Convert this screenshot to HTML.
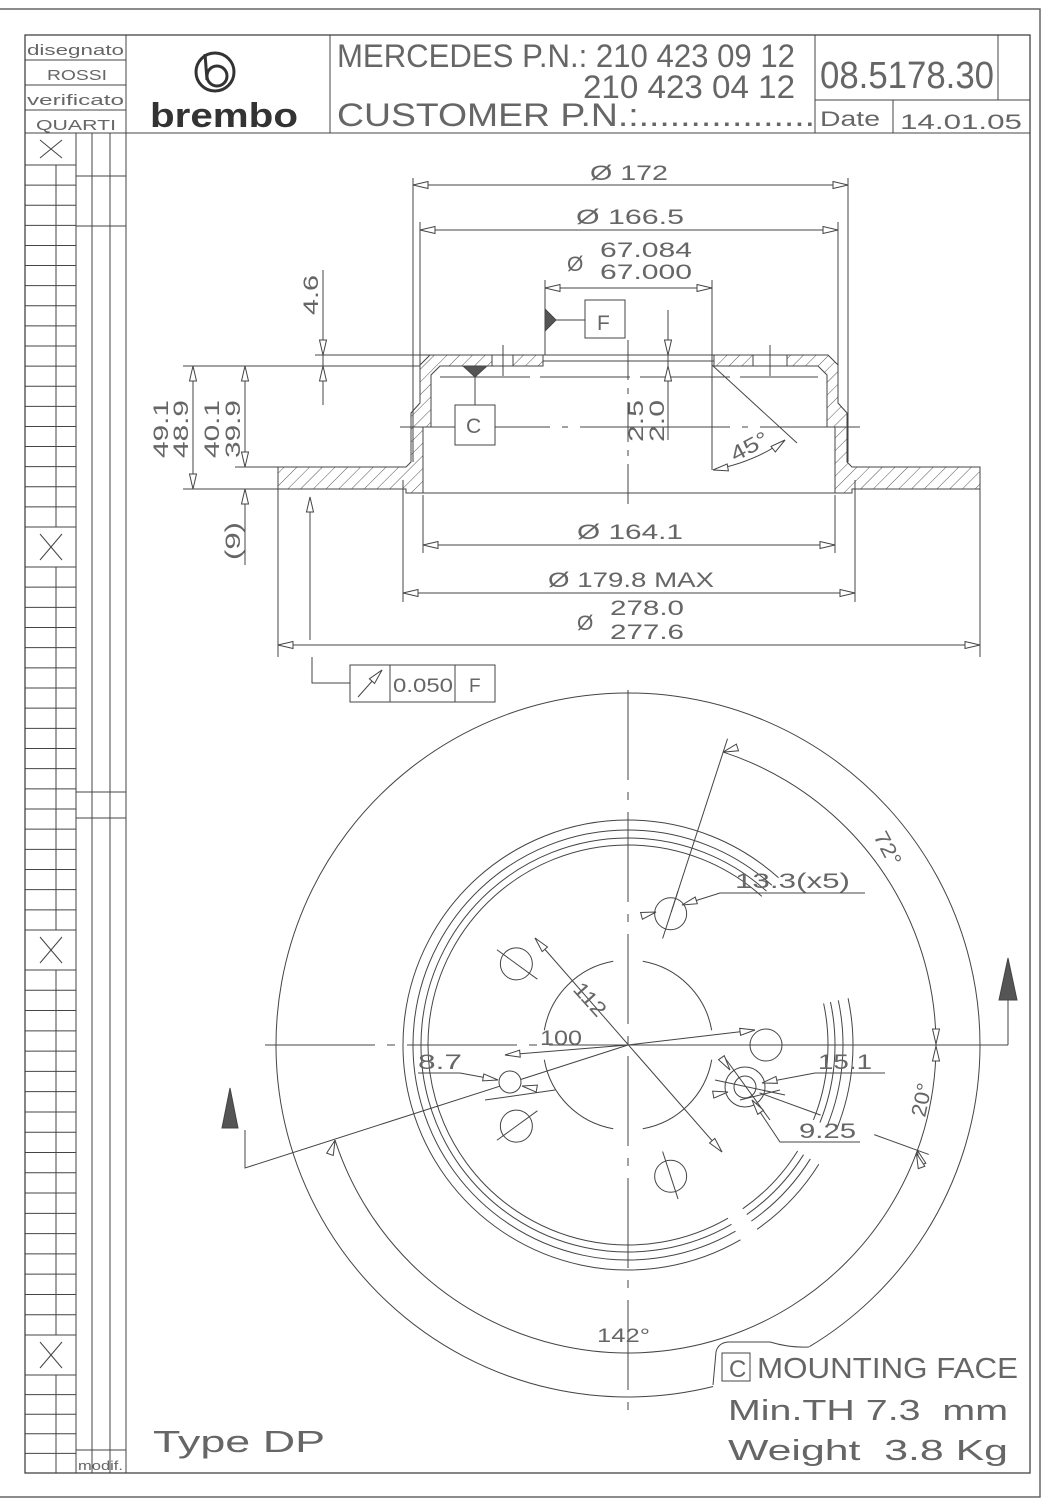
<!DOCTYPE html>
<html><head><meta charset="utf-8"><style>
html,body{margin:0;padding:0;background:#fff}
svg{display:block}
text{font-family:"Liberation Sans",sans-serif;fill:#666}
</style></head><body>
<svg id="s" width="1062" height="1499" viewBox="0 0 1062 1499" xmlns="http://www.w3.org/2000/svg">
<defs>
<pattern id="h" patternUnits="userSpaceOnUse" width="9" height="9" patternTransform="rotate(45)">
<line x1="0" y1="0" x2="0" y2="9" stroke="#444" stroke-width="0.9"/></pattern>
</defs>
<g fill="none" stroke="#444" stroke-width="1">
<polyline points="0,9 1040,9 1040,1497 0,1497" stroke="#666" stroke-width="1.5"/>
<rect x="25" y="35" width="1005" height="1438" stroke-width="1.3"/>
<line x1="25" y1="133" x2="1030" y2="133"/>
<line x1="126" y1="35" x2="126" y2="1473"/>
<line x1="330" y1="35" x2="330" y2="133"/>
<line x1="815" y1="35" x2="815" y2="133"/>
<line x1="998" y1="35" x2="998" y2="100"/>
<line x1="815" y1="100" x2="1030" y2="100"/>
<line x1="893" y1="100" x2="893" y2="133"/>
<line x1="25" y1="60" x2="126" y2="60"/>
<line x1="25" y1="85" x2="126" y2="85"/>
<line x1="25" y1="110" x2="126" y2="110"/>
<line x1="76" y1="133" x2="76" y2="1473"/>
<line x1="92" y1="133" x2="92" y2="1473"/>
<line x1="110" y1="133" x2="110" y2="1473"/>
<line x1="76" y1="176" x2="126" y2="176"/>
<line x1="76" y1="226" x2="126" y2="226"/>
<line x1="76" y1="792" x2="126" y2="792"/>
<line x1="76" y1="818" x2="126" y2="818"/>
<line x1="76" y1="1450" x2="126" y2="1450"/>
<g id="strip"></g>
<circle cx="215" cy="72" r="19" stroke="#333" stroke-width="3"/>
<circle cx="217" cy="76" r="10" stroke="#333" stroke-width="3"/>
<line x1="205" y1="54" x2="207" y2="80" stroke="#333" stroke-width="3"/>

<polygon fill="url(#h)" points="278,467 406,467 411,462 411,413 420,403 420,365 430,355 543,355 543,366 440,366 431,375 431,427 423,427 423,493 406,493 406,489 278,489"/>
<polygon fill="url(#h)" points="980,467 852,467 847,462 847,413 838,403 838,365 828,355 714,355 714,366 818,366 827,375 827,427 835,427 835,493 852,493 852,489 980,489"/>
<rect x="492" y="355" width="21" height="11" fill="#fff"/>
<rect x="753" y="355" width="34" height="11" fill="#fff"/>
<line x1="503" y1="345" x2="503" y2="376"/>
<line x1="770" y1="345" x2="770" y2="376"/>
<line x1="543" y1="355" x2="714" y2="355"/>
<line x1="543" y1="361" x2="714" y2="361"/>
<line x1="423" y1="493" x2="835" y2="493"/>
<line x1="440" y1="377" x2="818" y2="377" stroke-dasharray="90,10"/>
<line x1="400" y1="427" x2="860" y2="427" stroke-dasharray="150,12,6,12"/>
<line x1="628" y1="340" x2="628" y2="510" stroke-dasharray="40,8,6,8"/>
<line x1="413" y1="178" x2="413" y2="462"/>
<line x1="848" y1="178" x2="848" y2="462"/>
<line x1="420" y1="222" x2="420" y2="400"/>
<line x1="838" y1="222" x2="838" y2="400"/>
<line x1="545" y1="280" x2="545" y2="355"/>
<line x1="712" y1="280" x2="712" y2="470"/>
<line x1="423" y1="495" x2="423" y2="553"/>
<line x1="835" y1="495" x2="835" y2="553"/>
<line x1="403" y1="480" x2="403" y2="602"/>
<line x1="855" y1="480" x2="855" y2="602"/>
<line x1="278" y1="489" x2="278" y2="657"/>
<line x1="980" y1="489" x2="980" y2="657"/>
<line x1="315" y1="355" x2="430" y2="355"/>
<line x1="183" y1="366" x2="420" y2="366"/>
<line x1="235" y1="467" x2="278" y2="467"/>
<line x1="183" y1="489" x2="278" y2="489"/>
<line x1="413" y1="185" x2="848" y2="185"/>
<line x1="420" y1="230" x2="838" y2="230"/>
<line x1="545" y1="288" x2="712" y2="288"/>
<line x1="423" y1="545" x2="835" y2="545"/>
<line x1="403" y1="593" x2="855" y2="593"/>
<line x1="278" y1="645" x2="980" y2="645"/>
<line x1="323" y1="270" x2="323" y2="405"/>
<line x1="193" y1="366" x2="193" y2="489"/>
<line x1="245" y1="366" x2="245" y2="467"/>
<line x1="245" y1="489" x2="245" y2="565"/>
<line x1="668" y1="310" x2="668" y2="440"/>
<rect x="585" y="300" width="40" height="38"/>
<line x1="548" y1="320" x2="585" y2="320"/>
<polygon points="545,309 556,320 545,331" fill="#555"/>
<rect x="455" y="405" width="40" height="40" fill="#fff"/>
<line x1="475" y1="372" x2="475" y2="405"/>
<polygon points="463,366 487,366 475,377" fill="#555"/>
<line x1="712" y1="365" x2="797" y2="443"/>
<path d="M713,470 Q755,462 785,440"/>
<line x1="310" y1="497" x2="310" y2="640"/>
<polyline points="312,657 312,683 350,683"/>
<rect x="350" y="665" width="145" height="37"/>
<line x1="390" y1="665" x2="390" y2="702"/>
<line x1="455" y1="665" x2="455" y2="702"/>
<line x1="358" y1="697" x2="382" y2="670"/>

<path d="M713,1385 L716,1352 Q718,1343 728,1342 L770,1342 Q790,1348 809,1347"/>
<line x1="265" y1="1045" x2="995" y2="1045" stroke-dasharray="110,12,8,12"/>
<line x1="628" y1="690" x2="628" y2="1420" stroke-dasharray="90,12,8,12"/>
<line x1="1008" y1="1000" x2="1008" y2="1045"/>
<line x1="628" y1="1045" x2="1008" y2="1045"/>
<polygon points="1008,958 999,1000 1017,1000" fill="#555"/>
<polyline points="628,1045 245,1168 245,1130"/>
<polygon points="230,1088 222,1128 238,1128" fill="#555"/>
<polyline points="865,893 720,893 682,905"/>
<polyline points="418,1073 460,1073 498,1080"/>
<polyline points="885,1073 815,1073 762,1083"/>
<polyline points="860,1142 780,1142 752,1100"/>
<line x1="535" y1="938" x2="722" y2="1152"/>
<line x1="628" y1="1045" x2="755" y2="1030"/>
<line x1="628" y1="1045" x2="505" y2="1055"/>
<line x1="485" y1="1100" x2="555" y2="1090" />
<line x1="740" y1="1100" x2="780" y2="1090"/>
<g id="plan"></g>
</g>

<g font-size="15">
<text x="27" y="55" textLength="97" lengthAdjust="spacingAndGlyphs">disegnato</text>
<text x="47" y="80" textLength="60" lengthAdjust="spacingAndGlyphs">ROSSI</text>
<text x="27" y="105" textLength="97" lengthAdjust="spacingAndGlyphs">verificato</text>
<text x="36" y="130" textLength="80" lengthAdjust="spacingAndGlyphs">QUARTI</text>
<text x="78" y="1470" font-size="13" textLength="45" lengthAdjust="spacingAndGlyphs">modif.</text>
</g>
<text x="150" y="127" font-size="34" font-weight="bold" style="fill:#333" textLength="148" lengthAdjust="spacingAndGlyphs">brembo</text>
<g font-size="32">
<text x="337" y="67" textLength="458" lengthAdjust="spacingAndGlyphs">MERCEDES P.N.: 210 423 09 12</text>
<text x="583" y="98" textLength="212" lengthAdjust="spacingAndGlyphs">210 423 04 12</text>
<text x="337" y="126" textLength="478" lengthAdjust="spacingAndGlyphs">CUSTOMER P.N.:.................</text>
<text x="820" y="88" font-size="38" textLength="174" lengthAdjust="spacingAndGlyphs">08.5178.30</text>
</g>
<g font-size="21">
<text x="820" y="126" textLength="60" lengthAdjust="spacingAndGlyphs">Date</text>
<text x="900" y="129" textLength="122" lengthAdjust="spacingAndGlyphs">14.01.05</text>
</g>
<g font-size="21">
<text x="590" y="180" textLength="78" lengthAdjust="spacingAndGlyphs">Ø 172</text>
<text x="576" y="224" textLength="108" lengthAdjust="spacingAndGlyphs">Ø 166.5</text>
<text x="600" y="257" textLength="92" lengthAdjust="spacingAndGlyphs">67.084</text>
<text x="600" y="279" textLength="92" lengthAdjust="spacingAndGlyphs">67.000</text>
<text x="567" y="271">Ø</text>
<text x="597" y="330">F</text>
<text x="466" y="433">C</text>
<text x="577" y="539" textLength="106" lengthAdjust="spacingAndGlyphs">Ø 164.1</text>
<text x="548" y="587" textLength="166" lengthAdjust="spacingAndGlyphs">Ø 179.8 MAX</text>
<text x="610" y="615" textLength="74" lengthAdjust="spacingAndGlyphs">278.0</text>
<text x="610" y="639" textLength="74" lengthAdjust="spacingAndGlyphs">277.6</text>
<text x="577" y="630">Ø</text>
<text x="393" y="692" font-size="19" textLength="60" lengthAdjust="spacingAndGlyphs">0.050</text>
<text x="469" y="692" font-size="19">F</text>
<text transform="translate(318,315) rotate(-90)" textLength="40" lengthAdjust="spacingAndGlyphs">4.6</text>
<text transform="translate(168,458) rotate(-90)" textLength="58" lengthAdjust="spacingAndGlyphs">49.1</text>
<text transform="translate(188,458) rotate(-90)" textLength="58" lengthAdjust="spacingAndGlyphs">48.9</text>
<text transform="translate(219,458) rotate(-90)" textLength="58" lengthAdjust="spacingAndGlyphs">40.1</text>
<text transform="translate(240,458) rotate(-90)" textLength="58" lengthAdjust="spacingAndGlyphs">39.9</text>
<text transform="translate(240,560) rotate(-90)" textLength="38" lengthAdjust="spacingAndGlyphs">(9)</text>
<text transform="translate(643,442) rotate(-90)" textLength="42" lengthAdjust="spacingAndGlyphs">2.5</text>
<text transform="translate(664,442) rotate(-90)" textLength="42" lengthAdjust="spacingAndGlyphs">2.0</text>
<text transform="translate(735,462) rotate(-28)" textLength="40" lengthAdjust="spacingAndGlyphs">45°</text>
<text x="735" y="888" textLength="115" lengthAdjust="spacingAndGlyphs">13.3(x5)</text>
<text transform="translate(572,990) rotate(48)" textLength="38" lengthAdjust="spacingAndGlyphs">112</text>
<text x="540" y="1045" textLength="42" lengthAdjust="spacingAndGlyphs">100</text>
<text x="418" y="1069" textLength="44" lengthAdjust="spacingAndGlyphs">8.7</text>
<text x="818" y="1069" textLength="54" lengthAdjust="spacingAndGlyphs">15.1</text>
<text x="799" y="1138" textLength="57" lengthAdjust="spacingAndGlyphs">9.25</text>
<text transform="translate(873,836) rotate(62)" textLength="36" lengthAdjust="spacingAndGlyphs">72°</text>
<text transform="translate(925,1118) rotate(-78)" textLength="34" lengthAdjust="spacingAndGlyphs">20°</text>
<text x="597" y="1342" font-size="19" textLength="53" lengthAdjust="spacingAndGlyphs">142°</text>
</g>
<rect x="722" y="1353" width="28" height="28" fill="none" stroke="#444"/>
<g font-size="29">
<text x="729" y="1377" font-size="24">C</text>
<text x="757" y="1378" textLength="261" lengthAdjust="spacingAndGlyphs">MOUNTING FACE</text>
<text x="728" y="1420" textLength="280" lengthAdjust="spacingAndGlyphs" xml:space="preserve">Min.TH 7.3  mm</text>
<text x="728" y="1460" textLength="280" lengthAdjust="spacingAndGlyphs" xml:space="preserve">Weight  3.8 Kg</text>
<text x="153" y="1452" font-size="31" textLength="172" lengthAdjust="spacingAndGlyphs">Type DP</text>
</g>
</svg>
<script>
(function(){
var NS="http://www.w3.org/2000/svg";
function el(par,t,a){var e=document.createElementNS(NS,t);for(var k in a)e.setAttribute(k,a[k]);par.appendChild(e);return e;}
var st=document.getElementById('strip');
function X(y1,y2){el(st,'line',{x1:40,y1:y1+7,x2:62,y2:y2-7});el(st,'line',{x1:62,y1:y1+7,x2:40,y2:y2-7});el(st,'line',{x1:25,y1:y2,x2:76,y2:y2});}
function rows(y1,y2,n){var h=(y2-y1)/n;for(var i=1;i<=n;i++){el(st,'line',{x1:25,y1:y1+i*h,x2:76,y2:y1+i*h});}el(st,'line',{x1:56,y1:y1,x2:56,y2:y2});}
X(133,165);rows(165,527,18);X(527,567);rows(567,930,18);X(930,970);rows(970,1335,18);X(1335,1375);rows(1375,1473,5);
var pl=document.getElementById('plan');var cx=628,cy=1045;
function P(r,a){a=a*Math.PI/180;return[cx+r*Math.cos(a),cy-r*Math.sin(a)];}
function arc(r,a1,a2,extra){var p1=P(r,a1),p2=P(r,a2);var sp=((a2-a1)%360+360)%360;var lg=sp>180?1:0;var o={d:'M'+p1[0]+','+p1[1]+' A'+r+','+r+' 0 '+lg+' 0 '+p2[0]+','+p2[1]};for(var k in extra)o[k]=extra[k];el(pl,'path',o);}
arc(352,-59,284);
arc(308,198,432);
[200,207,215,225].forEach(function(r){arc(r,48,300);arc(r,305,328);arc(r,338,372);});
arc(145,0,360,{'stroke-dasharray':'40,10'});
arc(127,0,360,{'stroke-dasharray':'60,8'});
arc(85,100,170);arc(85,190,260);arc(85,280,350);arc(85,10,80);
[0,72,144,216,288].forEach(function(a){var c=P(138,a);el(pl,'circle',{cx:c[0],cy:c[1],r:16,fill:'#fff'});
var r1=P(112,a),r2=P(162,a);el(pl,'line',{x1:r1[0],y1:r1[1],x2:r2[0],y2:r2[1]});});
var q1=P(140,72),q2=P(322,72);el(pl,'line',{x1:q1[0],y1:q1[1],x2:q2[0],y2:q2[1]});
var q3=P(140,-20),q4=P(205,-20);el(pl,'line',{x1:q3[0],y1:q3[1],x2:q4[0],y2:q4[1]});
var q5=P(262,-20),q6=P(320,-20);el(pl,'line',{x1:q5[0],y1:q5[1],x2:q6[0],y2:q6[1]});
el(pl,'circle',{cx:510,cy:1082,r:11,fill:'#fff'});
el(pl,'circle',{cx:745,cy:1087,r:20});el(pl,'circle',{cx:745,cy:1087,r:11});
el(pl,'line',{x1:725,y1:1058,x2:770,y2:1120});el(pl,'line',{x1:715,y1:1080,x2:785,y2:1095});
function tri(x,y,ang,fill){var a=ang*Math.PI/180,L=15,W=3.5;var bx=x-L*Math.cos(a),by=y-L*Math.sin(a);var nx=-Math.sin(a)*W,ny=Math.cos(a)*W;
el(document.getElementById('s'),'polygon',{points:x+','+y+' '+(bx+nx)+','+(by+ny)+' '+(bx-nx)+','+(by-ny),fill:fill||'#fff',stroke:'#444','stroke-width':1});}
tri(413,185,180);tri(848,185,0);tri(420,230,180);tri(838,230,0);tri(545,288,180);tri(712,288,0);
tri(423,545,180);tri(835,545,0);tri(403,593,180);tri(855,593,0);tri(278,645,180);tri(980,645,0);
tri(323,355,90);tri(323,366,-90);tri(193,366,-90);tri(193,489,90);tri(245,366,-90);tri(245,467,90);tri(245,489,-90);
tri(668,355,90);tri(668,366,-90);tri(310,497,-90);tri(382,670,-48,'#fff');tri(713,470,170);tri(785,440,-38);
tri(682,905,162);tri(656,912,-15);tri(535,938,-131);tri(722,1152,49);tri(755,1030,-7);tri(505,1055,175);
tri(498,1080,10);tri(522,1086,190);tri(762,1083,168);tri(728,1092,-10);tri(752,1100,-125);tri(730,1070,55);
var a72=P(308,72);tri(a72[0],a72[1],162);var a0=P(308,0);tri(a0[0],a0[1]-1,90);tri(a0[0],a0[1]+1,-90);
var a20=P(308,-20);tri(a20[0],a20[1],-110);tri(a20[0]-1,a20[1]+3,250);var a198=P(308,198);tri(a198[0],a198[1],-70);
})();
</script>
</body></html>
